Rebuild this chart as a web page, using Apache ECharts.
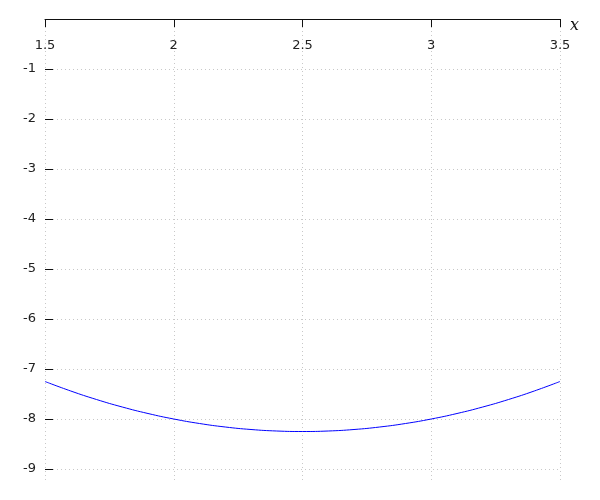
<!DOCTYPE html>
<html>
<head>
<meta charset="utf-8">
<script src="https://cdn.jsdelivr.net/npm/echarts@6/dist/echarts.min.js"></script>
<style>
  html, body { margin: 0; padding: 0; background: #fff; }
  #chart { width: 600px; height: 500px; }
</style>
</head>
<body>
<div id="chart"></div>
<script>
// curve samples
const xs = [1.5, 1.6, 1.7, 1.8, 1.9, 2.0, 2.1, 2.2, 2.3, 2.4, 2.5,
            2.6, 2.7, 2.8, 2.9, 3.0, 3.1, 3.2, 3.3, 3.4, 3.5];
const ys = [-7.25, -7.44, -7.61, -7.76, -7.89, -8.0, -8.09, -8.16, -8.21, -8.24, -8.25,
            -8.24, -8.21, -8.16, -8.09, -8.0, -7.89, -7.76, -7.61, -7.44, -7.25];

const xMin = 1.5, xMax = 3.5, xStep = 0.5;
const yTop = 0, yBottom = -9.22;   // plotted range
const yTickMin = -9, yStep = 1;    // labelled range

const dotted = { color: '#c8c8c8', width: 1, type: [1, 3] };
const labelFont = { fontFamily: 'DejaVu Sans', fontSize: 13, color: '#222' };

const chart = echarts.init(document.getElementById('chart'));

chart.setOption({
  animation: false,
  grid: [
    // main plot area (curve + vertical grid lines)
    { left: 45, right: 40, top: 19, bottom: 20 },
    // same width, 0..-9 for the labelled y ticks
    { left: 45, right: 40, top: 19, height: 450 }
  ],
  xAxis: [
    {
      gridIndex: 0,
      type: 'value',
      position: 'top',
      min: xMin, max: xMax, interval: xStep,
      name: 'x',
      nameLocation: 'end',
      nameGap: 10,
      nameTextStyle: {
        fontFamily: 'DejaVu Serif', fontStyle: 'italic', fontSize: 16, color: '#111',
        verticalAlign: 'top', lineHeight: 14
      },
      axisLine: { show: true, lineStyle: { color: '#111', width: 1 } },
      axisTick: { show: true, inside: true, length: 8, lineStyle: { color: '#111' } },
      axisLabel: { inside: true, margin: 20, ...labelFont },
      splitLine: { show: true, lineStyle: dotted }
    },
    {
      gridIndex: 1,
      type: 'value',
      min: xMin, max: xMax, interval: xStep,
      show: false
    }
  ],
  yAxis: [
    {
      gridIndex: 0,
      type: 'value',
      min: yBottom, max: yTop,
      show: false,
      splitLine: { show: false }
    },
    {
      gridIndex: 1,
      type: 'value',
      min: yTickMin, max: yTop, interval: yStep,
      axisLine: { show: false },
      axisTick: { show: true, inside: true, length: 8, lineStyle: { color: '#111' } },
      axisLabel: { margin: 9, showMaxLabel: false, ...labelFont },
      splitLine: { show: true, lineStyle: dotted }
    }
  ],
  series: [
    {
      type: 'line',
      xAxisIndex: 0,
      yAxisIndex: 0,
      data: xs.map((x, i) => [x, ys[i]]),
      smooth: true,
      showSymbol: false,
      lineStyle: { color: '#0000ff', width: 1 }
    }
  ]
});
</script>
</body>
</html>
